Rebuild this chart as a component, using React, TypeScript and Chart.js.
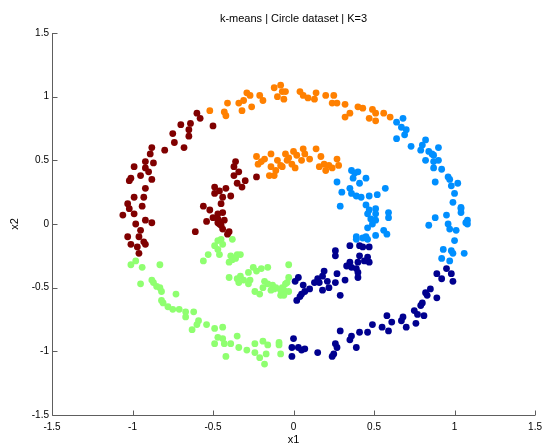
import React, { useEffect, useRef } from "react";
import { Chart, registerables } from "chart.js";

Chart.register(...registerables);

const titleText = "k-means | Circle dataset | K=3";
const xAxisLabel = "x1";
const yAxisLabel = "x2";
const axisMin = -1.5;
const axisMax = 1.5;
const tickStep = 0.5;

type P = [number, number];

const darkRedPoints: P[] = [
  [-0.60,0.87],[-0.58,0.83],[-0.70,0.78],[-0.64,0.79],[-0.65,0.74],[-0.65,0.69],[-0.75,0.71],[-0.74,0.64],[-0.68,0.60],[-0.80,0.58],[-0.50,0.77],[-0.88,0.60],[-0.89,0.55],[-0.92,0.49],[-0.87,0.48],[-0.99,0.45],[-0.92,0.44],[-0.90,0.41],[-0.95,0.38],[-1.01,0.36],[-1.02,0.34],[-0.88,0.35],[-0.92,0.28],[-0.99,0.21],[-0.93,0.21],[-1.03,0.16],[-1.02,0.12],[-0.94,0.14],[-0.99,0.08],[-1.06,0.07],[-0.98,0.00],[-0.92,0.03],[-0.88,0.01],[-0.95,-0.05],[-1.03,-0.10],[-0.96,-0.10],[-1.01,-0.16],[-0.97,-0.18],[-0.92,-0.16],[-0.96,-0.23],[-0.93,-0.14],
  [-0.36,0.49],[-0.37,0.45],[-0.34,0.41],[-0.37,0.38],[-0.30,0.34],[-0.23,0.37],[-0.35,0.32],[-0.32,0.29],[-0.49,0.29],[-0.46,0.26],[-0.42,0.28],[-0.39,0.22],[-0.44,0.21],[-0.49,0.24],[-0.45,0.16],[-0.56,0.14],[-0.52,0.11],[-0.47,0.08],[-0.44,0.09],[-0.50,0.05],[-0.54,0.02],[-0.47,0.01],[-0.45,-0.01],[-0.43,0.03],[-0.61,-0.06],[-0.41,-0.08],[-0.44,-0.04],[-0.40,-0.06],[-0.46,0.00],[-0.47,0.04],
];

const orangePoints: P[] = [
  [-0.52,0.89],[-0.43,0.88],[-0.42,0.85],[-0.41,0.95],[-0.34,0.95],[-0.31,0.97],[-0.32,0.89],[-0.26,0.92],[-0.29,1.03],[-0.27,1.01],[-0.21,1.01],[-0.19,0.97],[-0.12,1.07],[-0.08,1.09],[-0.07,1.04],[-0.10,1.00],[-0.06,0.98],[-0.05,1.04],[0.04,1.04],[0.06,1.01],[0.09,0.99],[0.13,0.98],[0.14,1.03],[0.20,1.01],[0.25,1.01],[0.24,0.95],[0.27,0.95],[0.32,0.94],[0.40,0.92],[0.43,0.91],[0.35,0.87],[0.32,0.84],[0.49,0.90],[0.51,0.87],[0.56,0.87],[0.47,0.83],[0.51,0.81],[0.60,0.84],
  [-0.23,0.53],[-0.18,0.51],[-0.14,0.55],[-0.22,0.47],[-0.20,0.49],[-0.14,0.45],[-0.15,0.38],[-0.07,0.45],[-0.05,0.55],[-0.11,0.42],[-0.12,0.38],[-0.04,0.50],[0.00,0.57],[0.02,0.54],[-0.01,0.47],[0.01,0.44],[0.06,0.59],[0.07,0.55],[0.10,0.51],[0.05,0.50],[0.14,0.59],[0.17,0.53],[0.16,0.45],[0.19,0.47],[0.22,0.46],[0.24,0.44],[0.27,0.51],[0.28,0.46],[0.20,0.42],[-0.08,0.46],[-0.03,0.52],[-0.10,0.50],
];

const lightBluePoints: P[] = [
  [0.64,0.80],[0.68,0.83],[0.67,0.76],[0.70,0.74],[0.69,0.70],[0.64,0.67],[0.73,0.61],[0.82,0.66],[0.80,0.62],[0.79,0.58],[0.84,0.57],[0.86,0.55],[0.87,0.54],[0.90,0.60],[0.82,0.50],[0.87,0.49],[0.90,0.50],[0.87,0.44],[0.92,0.43],[0.96,0.37],[0.97,0.35],[0.88,0.33],[1.02,0.32],[0.98,0.30],[1.00,0.24],[0.99,0.17],[1.04,0.13],[1.04,0.09],[1.04,0.12],[0.95,0.07],[0.88,0.05],[0.96,0.00],[0.97,-0.04],[1.01,-0.05],[0.84,-0.01],[1.07,0.01],[1.08,0.03],[1.08,0.00],[1.00,-0.13],[0.93,-0.20],[0.98,-0.21],[0.99,-0.23],[1.06,-0.23],[0.92,-0.27],[0.97,-0.29],
  [0.36,0.42],[0.38,0.40],[0.40,0.41],[0.37,0.36],[0.41,0.32],[0.45,0.36],[0.27,0.33],[0.30,0.25],[0.35,0.28],[0.36,0.24],[0.39,0.22],[0.42,0.21],[0.47,0.22],[0.52,0.23],[0.57,0.28],[0.29,0.14],[0.45,0.15],[0.47,0.11],[0.51,0.12],[0.46,0.08],[0.51,0.08],[0.59,0.09],[0.48,0.04],[0.51,0.03],[0.59,0.05],[0.46,-0.03],[0.56,-0.05],[0.58,-0.08],[0.51,-0.09],[0.39,-0.10],[0.43,-0.11],[0.46,-0.12],[0.39,-0.12],[0.45,-0.10],[0.49,0.00],
];

const navyPoints: P[] = [
  [0.89,-0.39],[0.92,-0.43],[0.95,-0.35],[0.98,-0.39],[0.99,-0.45],[0.85,-0.51],[0.82,-0.54],[0.83,-0.56],[0.89,-0.58],[0.80,-0.62],[0.79,-0.64],[0.75,-0.68],[0.77,-0.71],[0.81,-0.72],[0.68,-0.73],[0.67,-0.76],[0.70,-0.81],[0.76,-0.78],[0.58,-0.72],[0.61,-0.77],[0.55,-0.81],[0.59,-0.84],[0.49,-0.79],[0.46,-0.85],[0.41,-0.85],[0.36,-0.88],[0.35,-0.91],[0.29,-0.84],[0.39,-0.97],[0.26,-0.94],[0.27,-0.97],[0.25,-1.02],[0.24,-1.04],[0.15,-1.01],[0.07,-0.98],[0.05,-0.99],[0.03,-0.97],[0.00,-0.90],[-0.01,-0.97],[-0.01,-1.04],
  [0.35,-0.17],[0.26,-0.21],[0.26,-0.25],[0.41,-0.17],[0.43,-0.18],[0.47,-0.18],[0.41,-0.25],[0.46,-0.26],[0.47,-0.30],[0.44,-0.29],[0.40,-0.30],[0.35,-0.30],[0.36,-0.34],[0.33,-0.33],[0.39,-0.35],[0.40,-0.38],[0.40,-0.42],[0.32,-0.44],[0.27,-0.39],[0.26,-0.46],[0.19,-0.37],[0.18,-0.41],[0.21,-0.45],[0.22,-0.50],[0.18,-0.52],[0.15,-0.43],[0.13,-0.46],[0.16,-0.46],[0.29,-0.56],[0.10,-0.51],[0.07,-0.53],[0.06,-0.48],[0.05,-0.55],[0.02,-0.60],[0.03,-0.42],[0.01,-0.45],[0.04,-0.57],
];

const lightGreenPoints: P[] = [
  [-1.01,-0.32],[-0.98,-0.29],[-0.94,-0.34],[-0.83,-0.32],[-0.95,-0.47],[-0.88,-0.44],[-0.87,-0.46],[-0.85,-0.49],[-0.83,-0.50],[-0.82,-0.53],[-0.73,-0.55],[-0.82,-0.60],[-0.81,-0.62],[-0.78,-0.65],[-0.75,-0.67],[-0.71,-0.67],[-0.67,-0.69],[-0.62,-0.69],[-0.67,-0.73],[-0.59,-0.76],[-0.60,-0.79],[-0.63,-0.83],[-0.54,-0.79],[-0.49,-0.82],[-0.44,-0.81],[-0.47,-0.89],[-0.44,-0.90],[-0.49,-0.94],[-0.43,-0.94],[-0.39,-0.94],[-0.35,-0.88],[-0.34,-0.97],[-0.29,-0.99],[-0.42,-1.04],[-0.24,-0.94],[-0.19,-0.92],[-0.16,-0.95],[-0.24,-1.01],[-0.21,-1.05],[-0.17,-1.02],[-0.18,-1.10],[-0.09,-0.93],[-0.08,-1.02],[-0.09,-0.95],
  [-0.47,-0.13],[-0.45,-0.12],[-0.44,-0.16],[-0.49,-0.17],[-0.47,-0.20],[-0.46,-0.24],[-0.38,-0.12],[-0.53,-0.24],[-0.56,-0.29],[-0.39,-0.25],[-0.38,-0.28],[-0.35,-0.24],[-0.33,-0.24],[-0.40,-0.30],[-0.36,-0.27],[-0.40,-0.42],[-0.35,-0.43],[-0.33,-0.41],[-0.34,-0.46],[-0.31,-0.44],[-0.28,-0.38],[-0.25,-0.34],[-0.23,-0.37],[-0.20,-0.35],[-0.16,-0.34],[-0.27,-0.44],[-0.28,-0.47],[-0.18,-0.45],[-0.16,-0.47],[-0.19,-0.50],[-0.13,-0.48],[-0.12,-0.51],[-0.14,-0.52],[-0.24,-0.53],[-0.21,-0.55],[-0.07,-0.50],[-0.06,-0.52],[-0.08,-0.56],[-0.04,-0.46],[-0.03,-0.42],[-0.03,-0.32],[-0.05,-0.47],[-0.11,-0.50],[-0.03,-0.53],[-0.08,-0.52],[-0.06,-0.56],
];

const clusterNames = ["c1", "c2", "c3", "c4", "c5"];
const clusterPoints = [navyPoints, lightBluePoints, lightGreenPoints, orangePoints, darkRedPoints];
const clusterColors = ["rgb(0,0,143)", "rgb(0,143,255)", "rgb(143,255,112)", "rgb(255,128,0)", "rgb(128,0,0)"];

const FONT = '"Liberation Sans", Arial, Helvetica, sans-serif';
const AXIS_COLOR = "#5e5e5e";

const axesPlugin = {
  id: "matlabAxes",
  afterDatasetsDraw(chart: any) {
    const { ctx, chartArea, scales } = chart;
    const { left, right, top, bottom } = chartArea;
    const xs = scales.x;
    const ys = scales.y;
    ctx.save();
    ctx.strokeStyle = AXIS_COLOR;
    ctx.lineWidth = 1;
    ctx.beginPath();
    const lx = Math.round(left) + 0.5;
    const by = Math.round(bottom) + 0.5;
    ctx.moveTo(lx, top);
    ctx.lineTo(lx, by);
    ctx.lineTo(right, by);
    xs.ticks.forEach((t: any) => {
      const px = Math.round(xs.getPixelForValue(t.value)) + 0.5;
      ctx.moveTo(px, by);
      ctx.lineTo(px, by - 5);
    });
    ys.ticks.forEach((t: any) => {
      const py = Math.round(ys.getPixelForValue(t.value)) + 0.5;
      ctx.moveTo(lx, py);
      ctx.lineTo(lx + 5, py);
    });
    ctx.stroke();
    // title centred over the plot area
    ctx.fillStyle = "#000";
    ctx.font = `11px ${FONT}`;
    ctx.textAlign = "center";
    ctx.textBaseline = "middle";
    ctx.fillText(titleText, (left + right) / 2, 19);
    ctx.restore();
  },
};

const buildTicks = (s: any) => {
  const t = [];
  for (let v = axisMin; v <= axisMax + 1e-9; v += tickStep) t.push({ value: Math.round(v * 10) / 10 });
  s.ticks = t;
};

export default function App() {
  const canvasRef = useRef<HTMLCanvasElement | null>(null);

  useEffect(() => {
    if (!canvasRef.current) return;
    const chart = new Chart(canvasRef.current, {
      type: "scatter",
      data: {
        datasets: clusterPoints.map((pts, i) => ({
          label: clusterNames[i],
          data: pts.map(([x, y]) => ({ x, y })),
          backgroundColor: clusterColors[i],
          borderColor: clusterColors[i],
          pointRadius: 3.4,
          pointBorderWidth: 0,
          pointHoverRadius: 3.4,
        })),
      },
      options: {
        responsive: false,
        animation: false,
        events: [],
        layout: { padding: { left: 0, right: 11, top: 33, bottom: 0 } },
        plugins: {
          legend: { display: false },
          tooltip: { enabled: false },
          title: { display: false },
        },
        scales: {
          x: {
            type: "linear",
            min: axisMin,
            max: axisMax,
            afterFit: (s: any) => { s.height = 32; },
            afterBuildTicks: buildTicks,
            grid: { display: false, drawTicks: false },
            border: { display: false },
            ticks: {
              color: "#000",
              padding: 6,
              maxRotation: 0,
              autoSkip: false,
              font: { family: FONT, size: 10 },
              callback: (v: any) => String(v),
            },
            title: {
              display: true,
              text: xAxisLabel,
              color: "#000",
              font: { family: FONT, size: 11 },
              padding: { top: 0, bottom: 0 },
            },
          },
          y: {
            type: "linear",
            min: axisMin,
            max: axisMax,
            afterFit: (s: any) => { s.width = 52; },
            afterBuildTicks: buildTicks,
            grid: { display: false, drawTicks: false },
            border: { display: false },
            ticks: {
              color: "#000",
              padding: 3,
              autoSkip: false,
              font: { family: FONT, size: 10 },
              callback: (v: any) => String(v),
            },
            title: {
              display: true,
              text: yAxisLabel,
              color: "#000",
              font: { family: FONT, size: 11 },
              padding: { top: 8, bottom: 0 },
            },
          },
        },
      },
      plugins: [axesPlugin],
    });
    return () => chart.destroy();
  }, []);

  return (
    <div style={{ position: "fixed", left: 0, top: 0, width: 548, height: 447, background: "#fff" }}>
      <canvas ref={canvasRef} width={548} height={447} style={{ width: 548, height: 447 }} />
    </div>
  );
}
